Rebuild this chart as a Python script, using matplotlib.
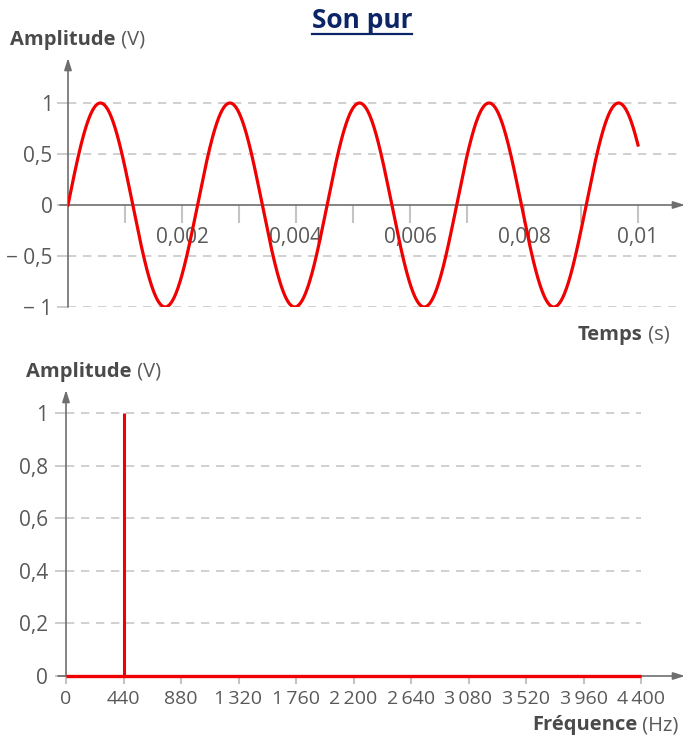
import numpy as np
import matplotlib
matplotlib.use('Agg')
import matplotlib.pyplot as plt
from matplotlib.lines import Line2D

############################################################
# Data

# pure tone
frequency = 440.0      # Hz
amplitude = 1.0        # V
t_end = 0.01           # s

time_ticks = [0.001, 0.002, 0.003, 0.004, 0.005, 0.006, 0.007, 0.008, 0.009, 0.01]
time_labels = ['', '0,002', '', '0,004', '', '0,006', '', '0,008', '', '0,01']
amp_ticks_top = [-1, -0.5, 0, 0.5, 1]
amp_labels_top = ['\u2212 1', '\u2212 0,5', '0', '0,5', '1']

# spectrum
spectrum_freqs = [440]
spectrum_amps = [1.0]
freq_ticks = [0, 440, 880, 1320, 1760, 2200, 2640, 3080, 3520, 3960, 4400]
freq_labels = ['0', '440', '880', '1\u2009320', '1\u2009760', '2\u2009200', '2\u2009640',
               '3\u2009080', '3\u2009520', '3\u2009960', '4\u2009400']
amp_ticks_bot = [0, 0.2, 0.4, 0.6, 0.8, 1]
amp_labels_bot = ['0', '0,2', '0,4', '0,6', '0,8', '1']

############################################################
# Style

W, H = 686, 740
red = '#f00000'
axis_col = '#6e6e6e'
tick_col = '#c4c4c4'
grid_col = '#c8c8c8'
txt_col = '#595959'
lab_col = '#4a4a4a'
font = ['Open Sans', 'DejaVu Sans']
plt.rcParams['font.family'] = font

fig = plt.figure(figsize=(W / 100, H / 100), dpi=100)


def rect(left, right, top, bottom):
    return [left / W, 1 - bottom / H, (right - left) / W, (bottom - top) / H]


def axis_label(x, y, bold, rest):
    t = fig.text(x / W, 1 - y / H, bold, fontsize=14.5, fontweight='bold',
                 color=lab_col, va='center', ha='left')
    fig.canvas.draw()
    bb = t.get_window_extent()
    fig.text(bb.x1 / W, 1 - y / H, rest, fontsize=14.5, color=txt_col,
             va='center', ha='left')


def setup(ax):
    for s in ax.spines.values():
        s.set_visible(False)
    ax.spines['bottom'].set_position(('data', 0))
    ax.annotate('', xy=(1, 0), xycoords=('axes fraction', 'data'),
                xytext=(-0.013, 0), textcoords=('axes fraction', 'data'),
                arrowprops=dict(arrowstyle='-|>,head_length=0.7,head_width=0.22',
                                color=axis_col, lw=1.2, shrinkA=0, shrinkB=0))
    ax.annotate('', xy=(0, 1), xycoords='axes fraction',
                xytext=(0, 0), textcoords='axes fraction',
                arrowprops=dict(arrowstyle='-|>,head_length=0.7,head_width=0.22',
                                color=axis_col, lw=1.2, shrinkA=0, shrinkB=0))
    ax.tick_params(axis='y', length=8, width=1.2, color=tick_col,
                   labelsize=15, labelcolor=txt_col, pad=3)
    ax.tick_params(axis='x', width=1.5, color=tick_col,
                   labelsize=15, labelcolor=txt_col)
    ax.patch.set_alpha(0)

############################################################
# Top: signal

ax1 = fig.add_axes(rect(68, 685, 58, 307))
setup(ax1)
x_max = (685 - 68) / 57000
ax1.set_xlim(0, x_max)
ax1.set_ylim(-1, (205 - 58) / 102)

for yv in [-1, -0.5, 0.5, 1]:
    ax1.hlines(yv, 0, 0.01075, colors=grid_col, linestyles=(0, (5, 4)), lw=1.2, zorder=1)

t = np.linspace(0, t_end, 1500)
ax1.plot(t, amplitude * np.sin(2 * np.pi * frequency * t), color=red, lw=2.3, zorder=4)

ax1.set_yticks(amp_ticks_top)
ax1.set_yticklabels(amp_labels_top)
ax1.set_xticks(time_ticks)
ax1.set_xticklabels(time_labels)
ax1.tick_params(axis='x', direction='out', length=13, pad=3)

axis_label(10, 40, 'Amplitude', ' (V)')
axis_label(578, 335, 'Temps', ' (s)')

############################################################
# Bottom: spectrum

ax2 = fig.add_axes(rect(66, 685, 390, 676))
setup(ax2)
f_max = (685 - 66) * 4400 / 575
ax2.set_xlim(0, f_max)
ax2.set_ylim(0, (676 - 390) / 263)

for yv in amp_ticks_bot[1:]:
    ax2.hlines(yv, 0, 4400, colors=grid_col, linestyles=(0, (5, 4)), lw=1.2, zorder=1)

ax2.plot([0, freq_ticks[-1]], [0, 0], color=red, lw=2.4, zorder=4, clip_on=False,
         solid_capstyle='butt')
for f, a in zip(spectrum_freqs, spectrum_amps):
    ax2.plot([f, f], [0, a], color=red, lw=2.2, zorder=4, clip_on=False,
             solid_capstyle='butt')

ax2.set_yticks(amp_ticks_bot)
ax2.set_yticklabels(amp_labels_bot)
ax2.set_xticks(freq_ticks)
ax2.set_xticklabels(freq_labels)
ax2.tick_params(axis='x', direction='out', length=6, pad=4, labelsize=14)
ax2.tick_params(axis='y', pad=5)

axis_label(26, 372, 'Amplitude', ' (V)')
axis_label(532, 725, 'Fréquence', ' (Hz)')

############################################################
# Title, underlined

title = fig.text(362 / W, 1 - 28 / H, 'Son pur', fontsize=19, fontweight='bold',
                 color='#0b2566', ha='center', va='baseline')
fig.canvas.draw()
bb = title.get_window_extent()
fig.add_artist(Line2D([bb.x0 / W, bb.x1 / W], [1 - 34 / H, 1 - 34 / H],
                      color='#0b2566', lw=1.6))

fig.savefig('out.png', dpi=100)
